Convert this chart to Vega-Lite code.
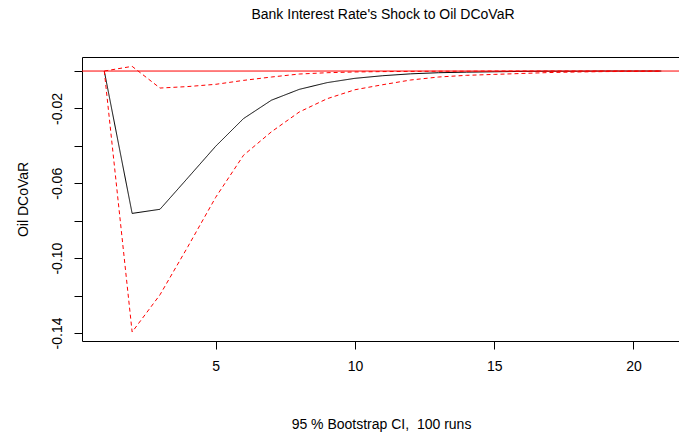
{
  "$schema": "https://vega.github.io/schema/vega-lite/v6.json",
  "width": 598,
  "height": 284,
  "autosize": {"type": "none"},
  "padding": {"left": 82, "top": 57, "right": 0, "bottom": 92},
  "background": "white",
  "config": {
    "font": "Liberation Sans",
    "view": {"stroke": "#000000", "strokeWidth": 1},
    "axis": {"labelFont": "Liberation Sans", "titleFont": "Liberation Sans", "labelColor": "#000000", "titleColor": "#000000", "tickColor": "#000000", "labelFontSize": 14, "titleFontSize": 14, "titleFontWeight": "normal", "grid": false, "domain": false, "tickSize": 8, "tickWidth": 1}
  },
  "title": {"text": "Bank Interest Rate's Shock to Oil DCoVaR", "font": "Liberation Sans", "fontSize": 14, "fontWeight": "normal", "color": "#000000", "anchor": "middle", "offset": 35, "dx": 2},
  "datasets": {
    "irf": [
      {"h": 1, "series": "irf", "value": 0},
      {"h": 2, "series": "irf", "value": -0.0761},
      {"h": 3, "series": "irf", "value": -0.0739},
      {"h": 4, "series": "irf", "value": -0.0571},
      {"h": 5, "series": "irf", "value": -0.0402},
      {"h": 6, "series": "irf", "value": -0.0254},
      {"h": 7, "series": "irf", "value": -0.0156},
      {"h": 8, "series": "irf", "value": -0.0098},
      {"h": 9, "series": "irf", "value": -0.0062},
      {"h": 10, "series": "irf", "value": -0.0039},
      {"h": 11, "series": "irf", "value": -0.0025},
      {"h": 12, "series": "irf", "value": -0.0015},
      {"h": 13, "series": "irf", "value": -0.0009},
      {"h": 14, "series": "irf", "value": -0.0006},
      {"h": 15, "series": "irf", "value": -0.0004},
      {"h": 16, "series": "irf", "value": -0.0002},
      {"h": 17, "series": "irf", "value": -0.0001},
      {"h": 18, "series": "irf", "value": -0.0001},
      {"h": 19, "series": "irf", "value": 0},
      {"h": 20, "series": "irf", "value": 0},
      {"h": 21, "series": "irf", "value": 0},
      {"h": 1, "series": "lower", "value": 0},
      {"h": 2, "series": "lower", "value": -0.1395},
      {"h": 3, "series": "lower", "value": -0.1196},
      {"h": 4, "series": "lower", "value": -0.0939},
      {"h": 5, "series": "lower", "value": -0.0675},
      {"h": 6, "series": "lower", "value": -0.0450},
      {"h": 7, "series": "lower", "value": -0.0325},
      {"h": 8, "series": "lower", "value": -0.0219},
      {"h": 9, "series": "lower", "value": -0.0148},
      {"h": 10, "series": "lower", "value": -0.0100},
      {"h": 11, "series": "lower", "value": -0.0073},
      {"h": 12, "series": "lower", "value": -0.0048},
      {"h": 13, "series": "lower", "value": -0.0032},
      {"h": 14, "series": "lower", "value": -0.0023},
      {"h": 15, "series": "lower", "value": -0.0018},
      {"h": 16, "series": "lower", "value": -0.0013},
      {"h": 17, "series": "lower", "value": -0.0008},
      {"h": 18, "series": "lower", "value": -0.0005},
      {"h": 19, "series": "lower", "value": -0.0003},
      {"h": 20, "series": "lower", "value": -0.0002},
      {"h": 21, "series": "lower", "value": -0.0001},
      {"h": 1, "series": "upper", "value": 0},
      {"h": 2, "series": "upper", "value": 0.0025},
      {"h": 3, "series": "upper", "value": -0.0091},
      {"h": 4, "series": "upper", "value": -0.0083},
      {"h": 5, "series": "upper", "value": -0.0071},
      {"h": 6, "series": "upper", "value": -0.0050},
      {"h": 7, "series": "upper", "value": -0.0032},
      {"h": 8, "series": "upper", "value": -0.0016},
      {"h": 9, "series": "upper", "value": -0.0009},
      {"h": 10, "series": "upper", "value": -0.0005},
      {"h": 11, "series": "upper", "value": -0.0003},
      {"h": 12, "series": "upper", "value": -0.0002},
      {"h": 13, "series": "upper", "value": -0.0001},
      {"h": 14, "series": "upper", "value": -0.0001},
      {"h": 15, "series": "upper", "value": 0},
      {"h": 16, "series": "upper", "value": 0},
      {"h": 17, "series": "upper", "value": 0},
      {"h": 18, "series": "upper", "value": 0},
      {"h": 19, "series": "upper", "value": 0},
      {"h": 20, "series": "upper", "value": 0},
      {"h": 21, "series": "upper", "value": 0}
    ]
  },
  "layer": [
    {
      "data": {"name": "irf"},
      "mark": {"type": "line", "strokeWidth": 1, "clip": true},
      "encoding": {
        "x": {"field": "h", "type": "quantitative", "scale": {"domain": [0.2, 21.67], "nice": false, "zero": false},
          "axis": {"values": [5, 10, 15, 20], "title": "95 % Bootstrap CI,\u00a0 100 runs", "labelPadding": 10, "titlePadding": 44, "labelFlush": false}},
        "y": {"field": "value", "type": "quantitative", "scale": {"domain": [-0.1443, 0.0075], "nice": false, "zero": false},
          "axis": {"values": [0, -0.02, -0.04, -0.06, -0.08, -0.1, -0.12, -0.14], "labelAngle": -90, "labelAlign": "center", "labelBaseline": "bottom", "labelPadding": 10, "labelFlush": false,
            "labelExpr": "round(datum.value*100) == -2 ? '-0.02' : round(datum.value*100) == -6 ? '-0.06' : round(datum.value*100) == -10 ? '-0.10' : round(datum.value*100) == -14 ? '-0.14' : ''",
            "title": "Oil DCoVaR", "titlePadding": 20}},
        "color": {"field": "series", "type": "nominal", "scale": {"domain": ["irf", "lower", "upper"], "range": ["#000000", "#FF0000", "#FF0000"]}, "legend": null},
        "strokeDash": {"field": "series", "type": "nominal", "scale": {"domain": ["irf", "lower", "upper"], "range": [[1, 0], [4, 3], [4, 3]]}, "legend": null}
      }
    },
    {
      "data": {"values": [{"ref": 0}]},
      "mark": {"type": "rule", "color": "#FF0000", "strokeWidth": 1},
      "encoding": {"y": {"field": "ref", "type": "quantitative"}}
    }
  ]
}
